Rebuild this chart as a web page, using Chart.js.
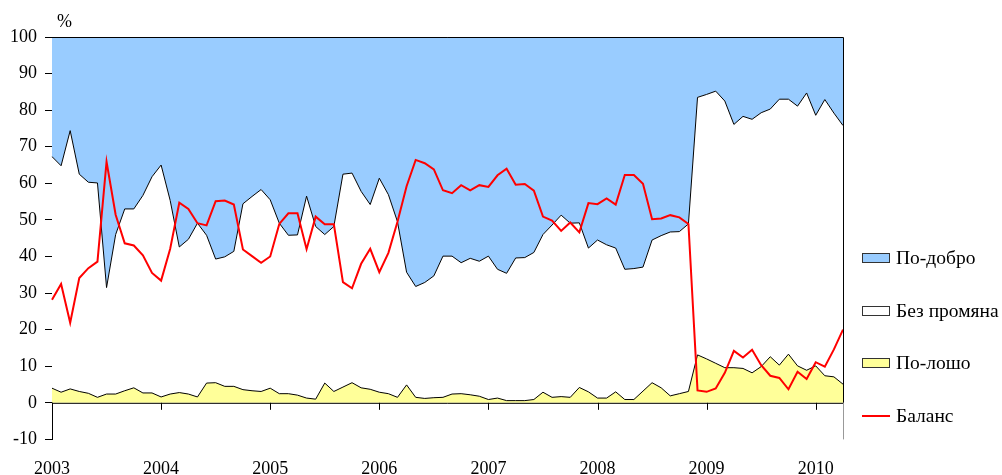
<!DOCTYPE html>
<html>
<head>
<meta charset="utf-8">
<script src="https://cdn.jsdelivr.net/npm/chart.js@4.4.1/dist/chart.umd.min.js"></script>
<style>
	html, body { margin: 0; padding: 0; background: #fff; }
	#chart { display: block; }
</style>
</head>
<body>
<canvas id="chart" width="1002" height="475"></canvas>
<script>
// monthly, 2003-01 .. 2010-04
const months = [];
for (let y = 2003; y <= 2010; y++) {
	for (let m = 1; m <= 12; m++) {
		if (y === 2010 && m > 4) break;
		months.push(y + '-' + String(m).padStart(2, '0'));
	}
}

// shares, %
const poLosho = [
	4.0, 2.9, 3.8, 3.1, 2.6, 1.5, 2.4, 2.4, 3.3, 4.1, 2.7, 2.7,
	1.6, 2.4, 2.8, 2.4, 1.6, 5.4, 5.5, 4.5, 4.5, 3.6, 3.3, 3.1,
	4.0, 2.5, 2.5, 2.1, 1.3, 1.0, 5.4, 3.1, 4.3, 5.5, 4.1, 3.7,
	2.9, 2.5, 1.5, 4.9, 1.5, 1.2, 1.4, 1.5, 2.4, 2.5, 2.2, 1.8,
	0.9, 1.3, 0.6, 0.6, 0.6, 0.9, 2.9, 1.5, 1.7, 1.5, 4.2, 3.0,
	1.3, 1.3, 3.0, 0.9, 0.9, 3.2, 5.5, 4.1, 1.9, 2.5, 3.1, 13.1,
	12.0, 10.8, 9.6, 9.6, 9.4, 8.2, 9.9, 12.6, 10.3, 13.3, 10.1, 8.9,
	10.1, 7.4, 7.1, 5.1
];
const bezPromyana = [
	63.3, 61.9, 70.6, 59.4, 57.7, 58.6, 29.1, 43.6, 49.7, 48.9, 54.0, 59.1,
	63.4, 52.9, 39.8, 42.3, 47.5, 40.4, 33.8, 35.4, 36.9, 50.8, 53.1, 55.2,
	51.5, 46.6, 43.3, 43.8, 55.2, 47.2, 40.6, 45.1, 58.2, 57.3, 53.7, 50.5,
	58.5, 54.4, 48.0, 30.8, 30.3, 31.7, 33.3, 38.6, 37.7, 35.8, 37.3, 36.9,
	39.2, 35.2, 34.8, 39.0, 39.1, 40.2, 43.1, 47.1, 49.6, 47.6, 45.0, 39.3,
	43.2, 41.9, 39.3, 35.6, 35.8, 33.9, 39.0, 41.6, 44.8, 44.3, 45.8, 70.4,
	72.3, 74.4, 72.9, 66.5, 68.9, 69.3, 69.4, 67.7, 72.7, 69.7, 71.0, 75.8,
	68.5, 75.5, 72.1, 70.7
];
const poDobro = [
	32.7, 35.2, 25.6, 37.5, 39.7, 39.9, 68.5, 54.0, 47.0, 47.0, 43.3, 38.2,
	35.0, 44.7, 57.4, 55.3, 50.9, 54.2, 60.7, 60.1, 58.6, 45.6, 43.6, 41.7,
	44.5, 50.9, 54.2, 54.1, 43.5, 51.8, 54.0, 51.8, 37.5, 37.2, 42.2, 45.8,
	38.6, 43.1, 50.5, 64.3, 68.2, 67.1, 65.3, 59.9, 59.9, 61.7, 60.5, 61.3,
	59.9, 63.5, 64.6, 60.4, 60.3, 58.9, 54.0, 51.4, 48.7, 50.9, 50.8, 57.7,
	55.5, 56.8, 57.7, 63.5, 63.3, 62.9, 55.5, 54.3, 53.3, 53.2, 51.1, 16.5,
	15.7, 14.8, 17.5, 23.9, 21.7, 22.5, 20.7, 19.7, 17.0, 17.0, 18.9, 15.3,
	21.4, 17.1, 20.8, 24.2
];
const balans = [
	28.2, 32.5, 21.9, 34.1, 36.8, 38.6, 65.9, 51.4, 43.6, 43.0, 40.3, 35.5,
	33.4, 42.1, 54.7, 53.0, 49.1, 48.5, 55.1, 55.3, 54.2, 41.9, 40.1, 38.3,
	40.0, 48.9, 51.8, 51.8, 42.0, 50.9, 48.8, 48.8, 33.0, 31.3, 38.0, 42.1,
	35.7, 41.0, 49.5, 59.2, 66.4, 65.5, 63.8, 58.1, 57.3, 59.5, 58.1, 59.5,
	59.0, 62.2, 64.0, 59.6, 59.8, 58.0, 50.9, 49.8, 47.0, 49.3, 46.6, 54.6,
	54.3, 55.9, 54.2, 62.3, 62.3, 59.9, 50.2, 50.4, 51.3, 50.7, 48.9, 3.4,
	3.0, 3.9, 8.2, 14.2, 12.4, 14.5, 10.3, 7.4, 6.8, 3.7, 8.5, 6.5,
	11.1, 9.9, 14.6, 20.0
];

const FONT = "'Liberation Serif', 'Times New Roman', serif";
Chart.defaults.font.family = FONT;
Chart.defaults.font.size = 18;
Chart.defaults.color = '#000';

// legend order as in the source: По-добро, Без промяна, По-лошо, Баланс
const legendOrder = [2, 1, 0, 3];

const decor = {
	id: 'decor',
	afterDatasetsDraw(chart) {
		const {ctx, chartArea: a, scales: {x, y}} = chart;
		const y0 = y.getPixelForValue(0);
		const xr = Math.round(x.getPixelForValue(months.length - 1)) + 0.5;
		ctx.save();
		ctx.lineWidth = 1;
		ctx.strokeStyle = '#000';
		ctx.beginPath();
		// zero line
		ctx.moveTo(a.left, y0 + 0.5);
		ctx.lineTo(xr, y0 + 0.5);
		// top and right border
		ctx.moveTo(a.left, a.top + 0.5);
		ctx.lineTo(xr, a.top + 0.5);
		ctx.lineTo(xr, y0);
		// year ticks on the zero line
		months.forEach((m, i) => {
			if (m.endsWith('-01')) {
				const px = Math.round(x.getPixelForValue(i)) + 0.5;
				ctx.moveTo(px, y0);
				ctx.lineTo(px, y0 + 7);
			}
		});
		ctx.stroke();
		ctx.strokeStyle = '#999';
		ctx.beginPath();
		ctx.moveTo(xr, y0);
		ctx.lineTo(xr, a.bottom);
		ctx.stroke();

		ctx.fillStyle = '#000';
		ctx.font = '18px ' + FONT;
		ctx.textAlign = 'left';
		ctx.textBaseline = 'alphabetic';
		ctx.fillText('%', a.left + 5, a.top - 10);

		// legend
		const lx = Math.round(xr) + 18;
		ctx.font = '19.5px ' + FONT;
		ctx.textBaseline = 'middle';
		legendOrder.forEach((di, k) => {
			const ds = chart.data.datasets[di];
			const cy = Math.round(a.top + 221 + k * 52.6);
			if (ds.fill === false) {
				ctx.strokeStyle = ds.borderColor;
				ctx.lineWidth = 2;
				ctx.beginPath();
				ctx.moveTo(lx, cy);
				ctx.lineTo(lx + 28, cy);
				ctx.stroke();
			} else {
				ctx.fillStyle = ds.backgroundColor;
				ctx.fillRect(lx, cy - 5, 28, 10);
				ctx.strokeStyle = '#333';
				ctx.lineWidth = 1;
				ctx.strokeRect(lx + 0.5, cy - 4.5, 27, 9);
			}
			ctx.fillStyle = '#000';
			ctx.fillText(ds.label, lx + 34, cy + 1);
		});
		ctx.restore();
	}
};

new Chart(document.getElementById('chart'), {
	type: 'line',
	data: {
		labels: months,
		datasets: [
			{label: 'По-лошо', data: poLosho, stack: 'dist', fill: 'origin',
				backgroundColor: '#FFFF99', borderColor: '#000', borderWidth: 1},
			{label: 'Без промяна', data: bezPromyana, stack: 'dist', fill: '-1',
				backgroundColor: '#FFFFFF', borderColor: '#000', borderWidth: 1},
			{label: 'По-добро', data: poDobro, stack: 'dist', fill: '-1',
				backgroundColor: '#99CCFF', borderColor: '#000', borderWidth: 1},
			{label: 'Баланс', data: balans, stack: 'bal', fill: false,
				borderColor: '#FF0000', borderWidth: 2, order: -1}
		]
	},
	options: {
		responsive: false,
		animation: false,
		layout: {padding: {top: 37, left: 2, right: 159, bottom: -24}},
		elements: {
			point: {radius: 0, hoverRadius: 0},
			line: {tension: 0}
		},
		plugins: {
			legend: {display: false},
			tooltip: {enabled: false}
		},
		scales: {
			x: {
				offset: false,
				grid: {display: false, drawTicks: false},
				border: {display: false},
				ticks: {
					autoSkip: false,
					maxRotation: 0,
					padding: 19,
					callback: (v, i) => months[i].endsWith('-01') ? months[i].slice(0, 4) : null
				}
			},
			y: {
				stacked: true,
				min: -10,
				max: 100,
				ticks: {stepSize: 10, padding: 8},
				grid: {drawOnChartArea: false, tickLength: 7, color: '#000'},
				border: {color: '#000', width: 1}
			}
		}
	},
	plugins: [decor]
});
</script>
</body>
</html>
